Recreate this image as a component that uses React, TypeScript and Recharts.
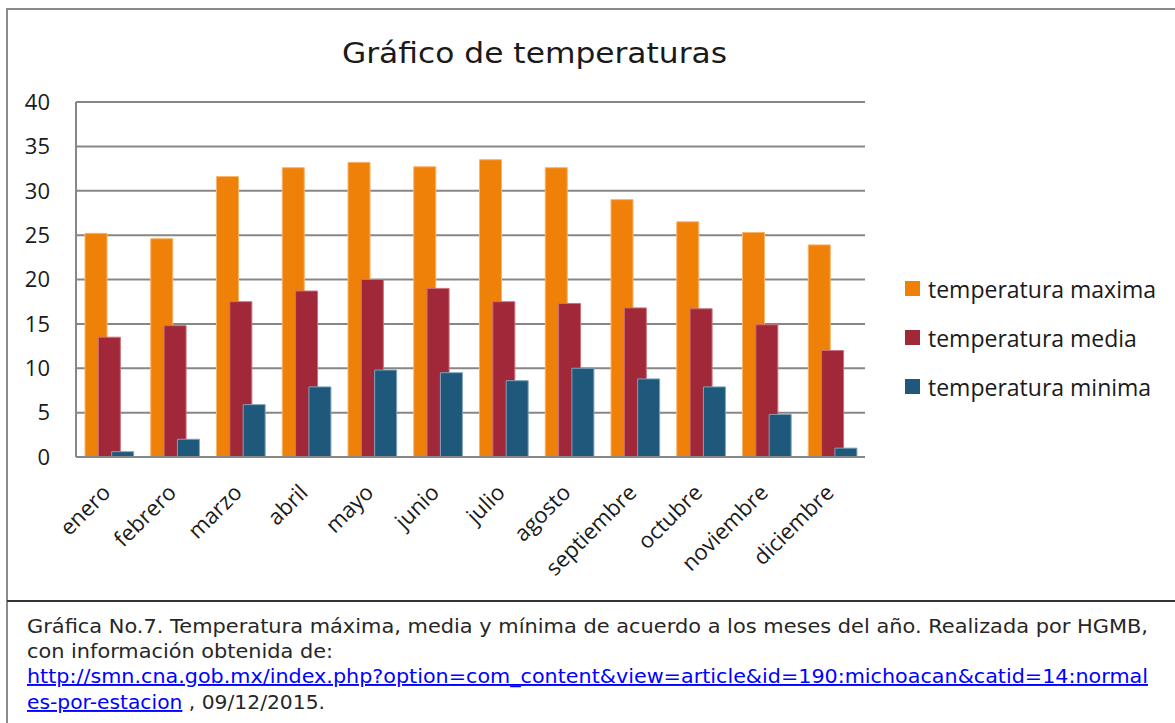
import React from 'react';
import { BarChart, Bar, XAxis, YAxis, CartesianGrid, Legend } from 'recharts';

const meses = ['enero', 'febrero', 'marzo', 'abril', 'mayo', 'junio', 'julio', 'agosto', 'septiembre', 'octubre', 'noviembre', 'diciembre'];
const tempMaxima = [25.2, 24.6, 31.6, 32.6, 33.2, 32.7, 33.5, 32.6, 29.0, 26.5, 25.3, 23.9];
const tempMedia = [13.5, 14.8, 17.5, 18.7, 20.0, 19.0, 17.5, 17.3, 16.8, 16.7, 14.9, 12.0];
const tempMinima = [0.6, 2.0, 5.9, 7.9, 9.8, 9.5, 8.6, 10.0, 8.8, 7.9, 4.8, 1.0];
const yTicks = [0, 5, 10, 15, 20, 25, 30, 35, 40];

const series = [
  { key: 'maxima', name: 'temperatura maxima', color: '#ef8109', edge: '#f7b46b' },
  { key: 'media', name: 'temperatura media', color: '#a12838', edge: '#c9707b' },
  { key: 'minima', name: 'temperatura minima', color: '#1e597c', edge: '#7fa3ba' },
];

const data = meses.map((mes, i) => ({
  mes,
  maxima: tempMaxima[i],
  media: tempMedia[i],
  minima: tempMinima[i],
}));

const tickFont = '"Open Sans", sans-serif';
const gridColor = '#878787';

const MonthTick = ({ x, y, payload }: any) => (
  <g transform={`translate(${x + 3},${y + 35})`}>
    <text x={0} y={0} textAnchor="end" transform="rotate(-45)" fontSize={22} fontFamily={tickFont} fill="#1a1a1a">
      {payload.value}
    </text>
  </g>
);

const LegendBox = () => (
  <div style={{ fontFamily: tickFont }}>
    {series.map(s => (
      <div key={s.key} style={{ display: 'flex', alignItems: 'center', height: 49 }}>
        <span style={{ width: 15, height: 15, background: s.color, marginRight: 8, display: 'inline-block' }} />
        <span style={{ fontSize: 23, color: '#1a1a1a', whiteSpace: 'nowrap' }}>{s.name}</span>
      </div>
    ))}
  </div>
);

export default function App() {
  return (
    <div style={{ position: 'absolute', left: 0, top: 0, width: 1175, height: 723, background: '#fff', overflow: 'hidden' }}>
      <div style={{ position: 'absolute', left: 6, top: 8, width: 1200, height: 730, borderLeft: '2px solid #8a8a8a', borderTop: '2px solid #8a8a8a' }} />
      <div style={{ position: 'absolute', left: 7, top: 600, width: 1200, height: 0, borderTop: '2px solid #333' }} />

      <div style={{ position: 'absolute', left: 0, top: 0 }}>
        <BarChart
          width={1175}
          height={600}
          data={data}
          margin={{ top: 102, right: 310, left: 0, bottom: 43 }}
          barSize={22}
          barGap={-8.67}
        >
          <CartesianGrid vertical={false} stroke={gridColor} strokeWidth={2} />
          <XAxis
            dataKey="mes"
            height={100}
            interval={0}
            tickLine={false}
            tickSize={0}
            axisLine={{ stroke: gridColor, strokeWidth: 2 }}
            tick={<MonthTick />}
          />
          <YAxis
            width={76}
            domain={[0, 40]}
            ticks={yTicks}
            interval={0}
            tickLine={false}
            tickSize={0}
            tickMargin={26}
            axisLine={{ stroke: gridColor, strokeWidth: 2 }}
            tick={{ fontSize: 22, fontFamily: tickFont, fill: '#1a1a1a' }}
          />
          <Legend
            layout="horizontal"
            verticalAlign="middle"
            align="center"
            content={<LegendBox />}
            wrapperStyle={{ position: 'absolute', left: 905, top: 264, width: 270 }}
          />
          {series.map(s => (
            <Bar
              key={s.key}
              dataKey={s.key}
              name={s.name}
              fill={s.color}
              stroke={s.edge}
              strokeWidth={1}
              isAnimationActive={false}
            />
          ))}
        </BarChart>
      </div>

      <svg width={1175} height={723} style={{ position: 'absolute', left: 0, top: 0, pointerEvents: 'none' }}>
        <text x={342} y={63} textLength={385} lengthAdjust="spacingAndGlyphs" fontSize={29} fontFamily='"DejaVu Sans", sans-serif' fill="#1a1a1a">
          Gráfico de temperaturas
        </text>
        <g fontFamily='"DejaVu Sans", sans-serif' fontSize={19} fill="#262626">
          <text x={27} y={633} textLength={1121} lengthAdjust="spacingAndGlyphs">
            Gráfica No.7. Temperatura máxima, media y mínima  de acuerdo a los meses del año. Realizada por HGMB,
          </text>
          <text x={27} y={658} textLength={306} lengthAdjust="spacingAndGlyphs">
            con información obtenida de:
          </text>
          <text x={27} y={683} textLength={1121} lengthAdjust="spacingAndGlyphs" fill="#0000ff" textDecoration="underline">
            http://smn.cna.gob.mx/index.php?option=com_content&amp;view=article&amp;id=190:michoacan&amp;catid=14:normal
          </text>
          <text x={27} y={709} textLength={298} lengthAdjust="spacingAndGlyphs">
            <tspan fill="#0000ff" textDecoration="underline">es-por-estacion</tspan>
            <tspan> , 09/12/2015.</tspan>
          </text>
        </g>
      </svg>
    </div>
  );
}
